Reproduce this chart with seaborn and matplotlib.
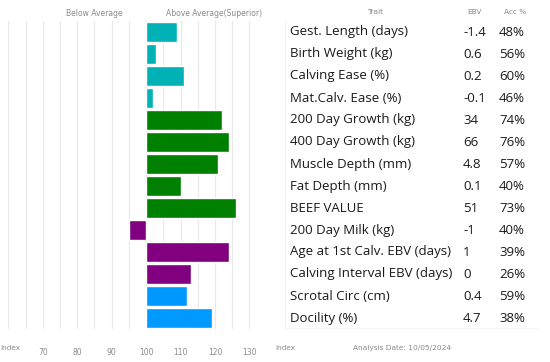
import matplotlib
matplotlib.use("Agg")
import matplotlib.pyplot as plt
import matplotlib.transforms as mtransforms
from matplotlib.lines import Line2D
from matplotlib.ticker import FixedLocator, FuncFormatter
import seaborn as sns

traits = ["Gest. Length (days)", "Birth Weight (kg)", "Calving Ease (%)", "Mat.Calv. Ease (%)",
          "200 Day Growth (kg)", "400 Day Growth (kg)", "Muscle Depth (mm)", "Fat Depth (mm)",
          "BEEF VALUE", "200 Day Milk (kg)", "Age at 1st Calv. EBV (days)",
          "Calving Interval EBV (days)", "Scrotal Circ (cm)", "Docility (%)"]
index_values = [109, 103, 111, 102, 122, 124, 121, 110, 126, 95, 124, 113, 112, 119]
ebv = ["-1.4", "0.6", "0.2", "-0.1", "34", "66", "4.8", "0.1", "51", "-1", "1", "0", "0.4", "4.7"]
acc = ["48%", "56%", "60%", "46%", "74%", "76%", "57%", "40%", "73%", "40%", "39%", "26%", "59%", "38%"]
groups = ["calving"] * 4 + ["growth"] * 5 + ["maternal"] * 3 + ["other"] * 2
group_colors = {"calving": "#00B2B5", "growth": "#008000", "maternal": "#800080", "other": "#0099FF"}
x_ticks = [70, 80, 90, 100, 110, 120, 130]
baseline = 100

deviation = [v - baseline for v in index_values]
bar_colors = [group_colors[g] for g in groups]

sns.set_theme(style="white")
plt.rcParams["font.family"] = ["DejaVu Sans"]

fig = plt.figure(figsize=(5.5, 3.62), dpi=100)
ax = fig.add_axes([8.3 / 550, 1 - 329 / 362, (266.7 - 8.3) / 550, (329 - 21) / 362])

sns.barplot(x=deviation, y=traits, hue=traits, palette=bar_colors, legend=False,
            orient="h", width=0.9, ax=ax, saturation=1, zorder=3)

ax.set_xlim(60 - baseline, 135 - baseline)
ax.set_ylim(13.5, -0.5)
for g in range(60, 136, 5):
    ax.axvline(g - baseline, color="#e8e8e8", lw=0.8, zorder=1)
ax.xaxis.set_major_locator(FixedLocator([t - baseline for t in x_ticks]))
ax.xaxis.set_major_formatter(FuncFormatter(lambda v, p: f"{int(round(v + baseline))}"))
ax.tick_params(axis="x", length=0, pad=14, labelsize=5.5, labelcolor="#8a8a8a")
ax.set_yticks([])
ax.set_xlabel("")
ax.set_ylabel("")
for s in ax.spines.values():
    s.set_visible(False)

# table frame lines
fig.add_artist(Line2D([285 / 550, 285 / 550], [1 - 21 / 362, 1 - 328 / 362],
                      transform=fig.transFigure, color="#f2f2f2", lw=0.7))
fig.add_artist(Line2D([285 / 550, 537 / 550], [1 - 328 / 362, 1 - 328 / 362],
                      transform=fig.transFigure, color="#f5f5f5", lw=0.7))

gray = "#8a8a8a"
# header
fig.text(94 / 550, 1 - 13 / 362, "Below Average", fontsize=5.5, color=gray, ha="center", va="center")
fig.text(214 / 550, 1 - 13 / 362, "Above Average(Superior)", fontsize=5.5, color=gray, ha="center", va="center")
fig.text(375 / 550, 1 - 12 / 362, "Trait", fontsize=5.3, color=gray, ha="center", va="center")
fig.text(474 / 550, 1 - 12 / 362, "EBV", fontsize=5.3, color=gray, ha="center", va="center")
fig.text(515 / 550, 1 - 12 / 362, "Acc %", fontsize=5.3, color=gray, ha="center", va="center")

# footer
fig.text(10 / 550, 1 - 348 / 362, "Index", fontsize=5.3, color=gray, ha="center", va="center")
fig.text(285 / 550, 1 - 348 / 362, "Index", fontsize=5.3, color=gray, ha="center", va="center")
fig.text(402 / 550, 1 - 348 / 362, "Analysis Date: 10/05/2024", fontsize=5.3, color=gray,
         ha="center", va="center")

# table
trans = mtransforms.blended_transform_factory(fig.transFigure, ax.transData)
tfont = dict(fontsize=9.5, color="#1a1a1a", va="center", family=["Open Sans", "DejaVu Sans"])
for i, (t, e, a) in enumerate(zip(traits, ebv, acc)):
    ax.text(290 / 550, i, t, transform=trans, ha="left", clip_on=False, **tfont)
    ax.text(463 / 550, i, e, transform=trans, ha="left", clip_on=False, **tfont)
    ax.text(499 / 550, i, a, transform=trans, ha="left", clip_on=False, **tfont)

fig.savefig("out.png", dpi=100)
